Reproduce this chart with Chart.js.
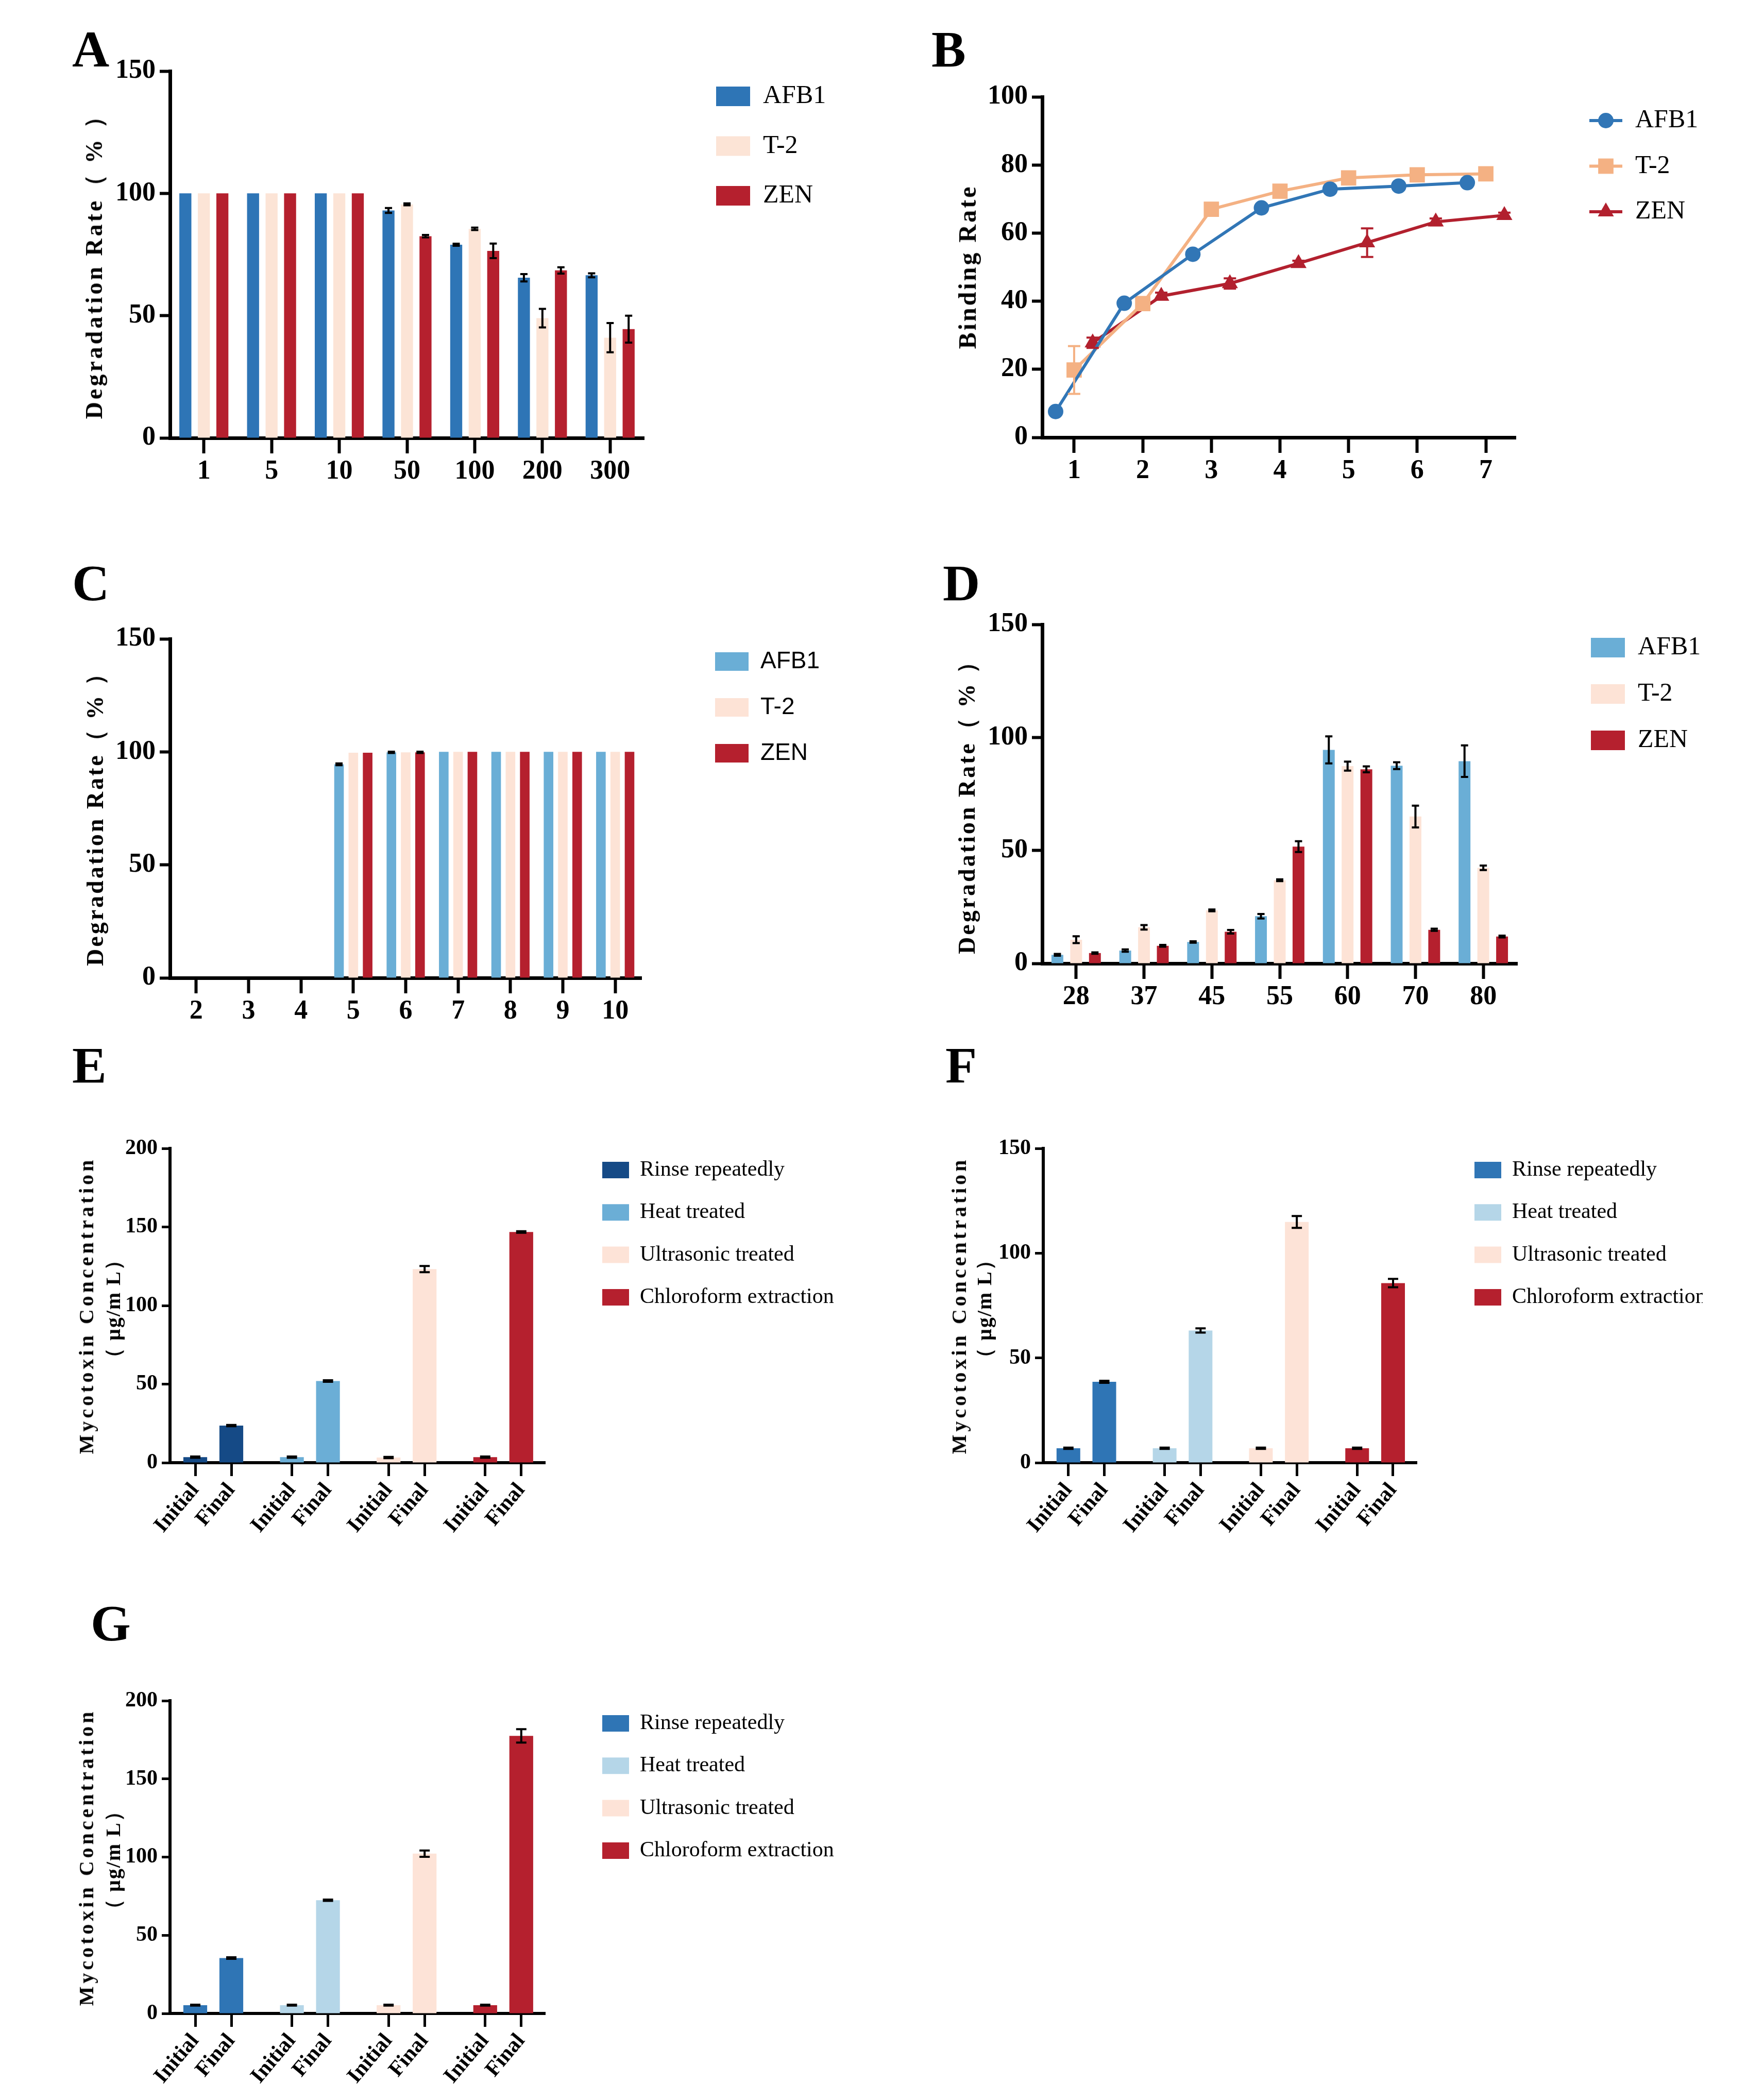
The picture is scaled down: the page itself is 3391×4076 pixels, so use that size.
<!DOCTYPE html>
<html>
<head>
<meta charset="utf-8">
<script src="https://cdn.jsdelivr.net/npm/chart.js@4.4.1/dist/chart.umd.min.js"></script>
<style>
html,body{margin:0;padding:0;background:#fff;}
#fig{position:relative;width:3391px;height:4076px;overflow:hidden;background:#fff;}
#fig canvas{position:absolute;}
.plabel{position:absolute;font-family:'Liberation Serif','Times New Roman',serif;font-weight:bold;font-size:100px;line-height:1;color:#000;}
.ytitle{position:absolute;transform:translate(-50%,-50%) rotate(-90deg);white-space:nowrap;font-family:'Liberation Serif','Times New Roman',serif;font-weight:bold;color:#000;line-height:1;}
#warm{position:absolute;left:-9999px;top:0;visibility:hidden;}
</style>
</head>
<body>
<div id="warm"><span style="font:normal 50px 'Liberation Serif'">AFB1 T-2 ZEN Rinse</span><span style="font:bold 50px 'Liberation Serif'">150 Initial</span><span style="font:normal 46px 'Liberation Sans'">AFB1 T-2 ZEN</span></div>
<div id="fig"></div>
<script>
// ---------------- DATA ----------------
const toxins = ['AFB1', 'T-2', 'ZEN'];

// Panel A
const aCategories = ['1', '5', '10', '50', '100', '200', '300'];
const aAFB1    = [100, 100, 100, 93, 79, 65.5, 66.5];
const aAFB1Err = [0, 0, 0, 1, 0.4, 1.5, 0.8];
const aT2      = [100, 100, 100, 95.5, 85.5, 49, 41];
const aT2Err   = [0, 0, 0, 0.4, 0.5, 3.8, 6];
const aZEN     = [100, 100, 100, 82.5, 76.5, 68.5, 44.5];
const aZENErr  = [0, 0, 0, 0.5, 3, 1.3, 5.5];

// Panel B
const bTimes   = [1, 2, 3, 4, 5, 6, 7];
const bAFB1    = [7.6, 39.4, 53.8, 67.4, 72.9, 73.8, 74.8];
const bAFB1Err = [0, 0, 0, 0, 0, 0, 0];
const bT2      = [19.8, 39.3, 67, 72.3, 76.2, 77.1, 77.4];
const bT2Err   = [7, 0, 0, 0, 0, 0, 0];
const bZEN     = [27.8, 41.5, 45.2, 51.1, 57.2, 63.3, 65.2];
const bZENErr  = [1.5, 1, 1.5, 0.8, 4.2, 1, 0.8];

// Panel C
const cCategories = ['2', '3', '4', '5', '6', '7', '8', '9', '10'];
const cAFB1    = [0, 0, 0, 94.5, 99.8, 100, 100, 100, 100];
const cAFB1Err = [0, 0, 0, 0.4, 0.3, 0, 0, 0, 0];
const cT2      = [0, 0, 0, 99.6, 99.8, 100, 100, 100, 100];
const cT2Err   = [0, 0, 0, 0, 0, 0, 0, 0, 0];
const cZEN     = [0, 0, 0, 99.6, 99.8, 100, 100, 100, 100];
const cZENErr  = [0, 0, 0, 0, 0.3, 0, 0, 0, 0];

// Panel D
const dCategories = ['28', '37', '45', '55', '60', '70', '80'];
const dAFB1    = [3.8, 5.7, 9.5, 20.9, 94.5, 87.5, 89.5];
const dAFB1Err = [0.4, 0.5, 0.3, 1, 6, 1.5, 7];
const dT2      = [10.5, 16, 23.5, 36.8, 87.3, 65, 42.3];
const dT2Err   = [1.5, 1, 0.4, 0.4, 2, 4.8, 1];
const dZEN     = [4.6, 7.8, 14, 51.7, 85.9, 14.9, 11.9];
const dZENErr  = [0.3, 0.4, 0.8, 2.4, 1.3, 0.5, 0.4];

// Panels E, F, G
const treatments = ['Rinse repeatedly', 'Heat treated', 'Ultrasonic treated', 'Chloroform extraction'];
const stages = ['Initial', 'Final'];
const eInitial    = [3.5, 3.5, 3.3, 3.5];
const eInitialErr = [0.4, 0.4, 0.4, 0.4];
const eFinal      = [23.6, 52, 123.2, 146.8];
const eFinalErr   = [0.4, 0.5, 2, 0.5];
const fInitial    = [6.9, 6.9, 6.9, 6.9];
const fInitialErr = [0.3, 0.3, 0.3, 0.3];
const fFinal      = [38.6, 63.1, 114.9, 85.7];
const fFinalErr   = [0.5, 1, 2.8, 2];
const gInitial    = [5.3, 5.3, 5.3, 5.3];
const gInitialErr = [0.3, 0.3, 0.3, 0.3];
const gFinal      = [35.4, 72.4, 102.2, 177.5];
const gFinalErr   = [0.5, 0.4, 2, 4.3];

// ---------------- STYLE ----------------
const SERIF = "'Liberation Serif', 'Times New Roman', serif";
const SANS = "'Liberation Sans', Arial, sans-serif";
const colA = ['#2E75B6', '#FCE4D6', '#B5202E'];
const colB = ['#3176B6', '#F4B183', '#B2202E'];
const colC = ['#6AAED6', '#FDE3D6', '#B5202E'];
const colE = ['#154A86', '#6BAED6', '#FDE3D7', '#B5202E'];
const colF = ['#2F75B5', '#B5D6E8', '#FDE3D7', '#B5202E'];
const bStagger = [-0.27, 0, 0.27];
const bMarkers = [['circle', 15], ['rect', 21], ['triangle', 18]];
const GROUP_STEP = 2.68;

const fig = document.getElementById('fig');
void document.getElementById('warm').offsetWidth;
const charts = [];

// ---------------- PLUGINS ----------------
const errorBarPlugin = {
  id: 'errorBars',
  afterDatasetsDraw(chart) {
    const ctx = chart.ctx;
    const ys = chart.scales.y;
    chart.data.datasets.forEach((ds, di) => {
      if (!ds.errors) return;
      const meta = chart.getDatasetMeta(di);
      ctx.save();
      ctx.strokeStyle = ds.errorColor || '#000';
      ctx.lineWidth = ds.errorWidth || 4;
      meta.data.forEach((el, i) => {
        const e = ds.errors[i];
        if (!e) return;
        const raw = ds.data[i];
        const v = (raw !== null && typeof raw === 'object') ? raw.y : raw;
        const x = el.x;
        const yT = ys.getPixelForValue(v + e);
        const yB = ys.getPixelForValue(Math.max(0, v - e));
        const cw = ds.errorCap || 7;
        ctx.beginPath();
        ctx.moveTo(x, yT); ctx.lineTo(x, yB);
        ctx.moveTo(x - cw, yT); ctx.lineTo(x + cw, yT);
        ctx.moveTo(x - cw, yB); ctx.lineTo(x + cw, yB);
        ctx.stroke();
      });
      ctx.restore();
    });
  }
};

const legendPlacer = {
  id: 'legendPlacer',
  afterLayout(chart) {
    const o = chart.canvas._legendAt;
    const lg = chart.legend;
    if (!o || !lg) return;
    const ih = o.fontSize;
    lg.left = o.boxLeft - o.padding;
    lg.top = o.firstCenter - ih / 2 - o.padding;
    lg.right = chart.width;
    lg.bottom = chart.height;
    lg.width = lg.right - lg.left;
    lg.height = lg.bottom - lg.top;
  }
};
Chart.register(errorBarPlugin, legendPlacer);

// ---------------- HELPERS ----------------
function mount(plot, yW, xH, rightEdge, padTop) {
  const c = document.createElement('canvas');
  const left = plot.l - yW, top = plot.t - padTop;
  const w = rightEdge - left, h = plot.b - top + xH;
  c.width = w; c.height = h;
  c.style.left = left + 'px'; c.style.top = top + 'px';
  c.style.width = w + 'px'; c.style.height = h + 'px';
  fig.appendChild(c);
  return { c, left, top, padTop, padRight: rightEdge - plot.r };
}

function yScale(max, step, fontSize, yW, extra) {
  return Object.assign({
    type: 'linear', min: 0, max: max,
    ticks: { stepSize: step, color: '#000', font: { family: SERIF, weight: 'bold', size: fontSize }, padding: 8 },
    grid: { display: true, drawOnChartArea: false, drawTicks: true, tickLength: 20, tickWidth: 6, tickColor: '#000', color: '#000' },
    border: { display: true, color: '#000', width: 7 },
    afterFit(s) { s.width = yW; }
  }, extra || {});
}

function xCategory(fontSize, xH) {
  return {
    type: 'category', offset: true,
    ticks: { color: '#000', font: { family: SERIF, weight: 'bold', size: fontSize }, padding: 4, maxRotation: 0, minRotation: 0, autoSkip: false },
    grid: { display: true, offset: false, drawOnChartArea: false, drawTicks: true, tickLength: 30, tickWidth: 6, tickColor: '#000', color: '#000' },
    border: { display: true, color: '#000', width: 7 },
    afterFit(s) { s.height = xH; }
  };
}

function legendOpts(family, size, boxW, boxH, padding, extraLabels) {
  return {
    display: true, position: 'chartArea', align: 'start',
    labels: Object.assign({ color: '#000', font: { family: family, size: size, weight: 'normal' }, boxWidth: boxW, boxHeight: boxH, padding: padding }, extraLabels || {})
  };
}

function setLegend(m, boxLeft, firstCenter, fontSize, padding) {
  m.c._legendAt = { boxLeft: boxLeft - m.left, firstCenter: firstCenter - m.top, fontSize, padding };
}

function commonOpts(m) {
  return {
    responsive: false, animation: false, devicePixelRatio: 1,
    layout: { padding: { top: m.padTop, right: m.padRight, left: 0, bottom: 0 } },
  };
}

function addYTitle(lines) {
  lines.forEach(t => {
    const d = document.createElement('div');
    d.className = 'ytitle';
    d.textContent = t.text;
    d.style.left = t.x + 'px';
    d.style.top = t.y + 'px';
    d.style.fontSize = t.size + 'px';
    d.style.letterSpacing = t.ls + 'px';
    fig.appendChild(d);
  });
}

function addLetter(ch, x, y) {
  const d = document.createElement('div');
  d.className = 'plabel';
  d.textContent = ch;
  d.style.left = x + 'px';
  d.style.top = y + 'px';
  fig.appendChild(d);
}

// ---------------- GROUPED BAR PANELS (A, C, D) ----------------
function groupedBar(plot, rightEdge, cats, series, errs, colors, catPct, barPct, legendFamily, legendSize, lg) {
  const m = mount(plot, 150, 120, rightEdge, 50);
  const opts = commonOpts(m);
  opts.scales = { x: xCategory(52, 120), y: yScale(150, 50, 52, 150) };
  opts.plugins = { tooltip: { enabled: false }, legend: legendOpts(legendFamily, legendSize, lg.bw, lg.bh, lg.pad) };
  setLegend(m, lg.boxLeft, lg.first, legendSize, lg.pad);
  charts.push(new Chart(m.c, {
    type: 'bar',
    data: {
      labels: cats,
      datasets: toxins.map((t, i) => ({
        label: t, data: series[i], errors: errs[i], backgroundColor: colors[i], borderWidth: 0,
        categoryPercentage: catPct, barPercentage: barPct, errorCap: 7, errorWidth: 4
      }))
    },
    options: opts
  }));
}

groupedBar({ l: 330, t: 138, r: 1250, b: 850 }, 1700, aCategories,
  [aAFB1, aT2, aZEN], [aAFB1Err, aT2Err, aZENErr], colA, 0.82, 0.65, SERIF, 50,
  { bw: 66, bh: 38, pad: 46.5, boxLeft: 1390, first: 187 });

groupedBar({ l: 330, t: 1240, r: 1245, b: 1898 }, 1700, cCategories,
  [cAFB1, cT2, cZEN], [cAFB1Err, cT2Err, cZENErr], colC, 0.82, 0.67, SANS, 46,
  { bw: 65, bh: 36, pad: 43, boxLeft: 1388, first: 1284 });

groupedBar({ l: 2023, t: 1212, r: 2945, b: 1870 }, 3391, dCategories,
  [dAFB1, dT2, dZEN], [dAFB1Err, dT2Err, dZENErr], colC, 0.83, 0.63, SERIF, 50,
  { bw: 66, bh: 38, pad: 40, boxLeft: 3088, first: 1257 });

// ---------------- LINE PANEL (B) ----------------
(function () {
  const plot = { l: 2023, t: 188, r: 2942, b: 849 };
  const m = mount(plot, 150, 120, 3391, 50);
  const series = [bAFB1, bT2, bZEN];
  const errs = [bAFB1Err, bT2Err, bZENErr];
  function icon(color, style, r) {
    const c = document.createElement('canvas');
    c.width = 64; c.height = 46;
    const x = c.getContext('2d');
    x.strokeStyle = color; x.lineWidth = 6;
    x.beginPath(); x.moveTo(0, 23); x.lineTo(64, 23); x.stroke();
    x.fillStyle = color;
    Chart.helpers.drawPoint(x, { pointStyle: style, radius: r, borderWidth: 0, rotation: 0 }, 32, 23);
    return c;
  }
  const icons = toxins.map((t, i) => icon(colB[i], bMarkers[i][0], bMarkers[i][1]));
  const opts = commonOpts(m);
  opts.scales = {
    x: {
      type: 'linear', min: 0.535, max: 7.435,
      afterBuildTicks(s) { s.ticks = bTimes.map(v => ({ value: v })); },
      ticks: { color: '#000', font: { family: SERIF, weight: 'bold', size: 52 }, padding: 4, maxRotation: 0, minRotation: 0, autoSkip: false },
      grid: { display: true, offset: false, drawOnChartArea: false, drawTicks: true, tickLength: 30, tickWidth: 6, tickColor: '#000', color: '#000' },
      border: { display: true, color: '#000', width: 7 },
      afterFit(s) { s.height = 120; }
    },
    y: yScale(100, 20, 52, 150)
  };
  opts.plugins = {
    tooltip: { enabled: false },
    legend: legendOpts(SERIF, 50, 64, 50, 38.5, {
      usePointStyle: true, pointStyleWidth: 64,
      generateLabels(chart) {
        const items = Chart.defaults.plugins.legend.labels.generateLabels(chart);
        items.forEach((it, i) => { it.pointStyle = icons[i]; });
        return items;
      }
    })
  };
  setLegend(m, 3085, 234, 50, 38.5);
  charts.push(new Chart(m.c, {
    type: 'line',
    data: {
      datasets: toxins.map((t, i) => ({
        label: t,
        data: bTimes.map((tt, k) => ({ x: tt + bStagger[i], y: series[i][k] })),
        errors: errs[i], errorColor: colB[i], errorCap: 12, errorWidth: 4,
        borderColor: colB[i], backgroundColor: colB[i], borderWidth: 6, tension: 0,
        pointStyle: bMarkers[i][0], pointRadius: bMarkers[i][1], pointBorderWidth: 0,
        pointBackgroundColor: colB[i], pointBorderColor: colB[i]
      }))
    },
    options: opts
  }));
})();

// ---------------- CONCENTRATION PANELS (E, F, G) ----------------
function concPanel(plot, rightEdge, yMax, initial, initialErr, fin, finErr, colors, lgBoxLeft, lgFirst) {
  const m = mount(plot, 150, 190, rightEdge, 50);
  const positions = [];
  treatments.forEach((t, g) => { positions.push(g * GROUP_STEP, g * GROUP_STEP + 1); });
  const opts = commonOpts(m);
  opts.scales = {
    x: {
      type: 'linear', offset: false, stacked: true,
      min: -0.7, max: (treatments.length - 1) * GROUP_STEP + 1 + 0.66,
      afterBuildTicks(s) { s.ticks = positions.map(v => ({ value: v })); },
      ticks: {
        color: '#000', font: { family: SERIF, weight: 'bold', size: 42 }, padding: 4,
        minRotation: 50, maxRotation: 50, autoSkip: false,
        callback: (v, i) => stages[i % 2]
      },
      grid: { display: true, offset: false, drawOnChartArea: false, drawTicks: true, tickLength: 26, tickWidth: 5, tickColor: '#000', color: '#000' },
      border: { display: true, color: '#000', width: 6 },
      afterFit(s) { s.height = 190; }
    },
    y: yScale(yMax, 50, 42, 150, { stacked: true })
  };
  opts.scales.y.grid.tickLength = 16;
  opts.scales.y.grid.tickWidth = 5;
  opts.scales.y.border.width = 6;
  opts.plugins = { tooltip: { enabled: false }, legend: legendOpts(SERIF, 42, 52, 32, 40.3) };
  setLegend(m, lgBoxLeft, lgFirst, 42, 40.3);
  charts.push(new Chart(m.c, {
    type: 'bar',
    data: {
      datasets: treatments.map((t, g) => ({
        label: t,
        data: [{ x: g * GROUP_STEP, y: initial[g] }, { x: g * GROUP_STEP + 1, y: fin[g] }],
        errors: [initialErr[g], finErr[g]], errorCap: 10, errorWidth: 4,
        backgroundColor: colors[g], borderWidth: 0, categoryPercentage: 1, barPercentage: 0.66
      }))
    },
    options: opts
  }));
}

concPanel({ l: 330, t: 2229, r: 1058, b: 2839 }, 1720, 200, eInitial, eInitialErr, eFinal, eFinalErr, colE, 1169, 2271);
concPanel({ l: 2025, t: 2229, r: 2750, b: 2839 }, 3305, 150, fInitial, fInitialErr, fFinal, fFinalErr, colF, 2862, 2271);
concPanel({ l: 330, t: 3301, r: 1058, b: 3908 }, 1720, 200, gInitial, gInitialErr, gFinal, gFinalErr, colF, 1169, 3345);

// redraw once fonts are surely available
function redrawAll() { charts.forEach(ch => ch.update('none')); }
charts.forEach(ch => ch.update('none'));
if (document.fonts && document.fonts.load) {
  Promise.all([
    document.fonts.load("normal 50px 'Liberation Serif'"),
    document.fonts.load("bold 50px 'Liberation Serif'"),
    document.fonts.load("normal 46px 'Liberation Sans'")
  ]).then(redrawAll, redrawAll);
  document.fonts.ready.then(redrawAll);
}
setTimeout(redrawAll, 50);

// ---------------- TEXT: panel letters & axis titles ----------------
addLetter('A', 140, 46);
addLetter('B', 1808, 46);
addLetter('C', 140, 1082);
addLetter('D', 1830, 1082);
addLetter('E', 140, 2018);
addLetter('F', 1835, 2018);
addLetter('G', 176, 3101);

const degTitle = 'Degradation Rate（ % ）';
const concTitle1 = 'Mycotoxin Concentration';
const concTitle2 = '（ μg/m L）';
addYTitle([
  { text: degTitle, x: 183, y: 506, size: 46, ls: 5 },
  { text: 'Binding Rate', x: 1878, y: 518, size: 48, ls: 4 },
  { text: degTitle, x: 185, y: 1578, size: 46, ls: 4 },
  { text: degTitle, x: 1877, y: 1555, size: 46, ls: 4 },
  { text: concTitle1, x: 168, y: 2534, size: 40, ls: 6 },
  { text: concTitle2, x: 220, y: 2540, size: 40, ls: 2 },
  { text: concTitle1, x: 1862, y: 2534, size: 40, ls: 6 },
  { text: concTitle2, x: 1911, y: 2540, size: 40, ls: 2 },
  { text: concTitle1, x: 168, y: 3605, size: 40, ls: 6 },
  { text: concTitle2, x: 220, y: 3610, size: 40, ls: 2 }
]);
</script>
</body>
</html>
